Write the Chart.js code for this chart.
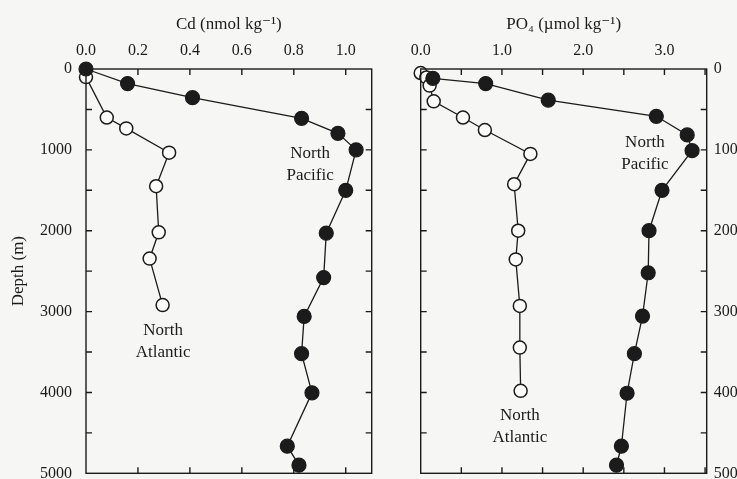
<!DOCTYPE html>
<html><head><meta charset="utf-8">
<script src="https://cdn.jsdelivr.net/npm/chart.js@4/dist/chart.umd.min.js"></script>
<style>
html,body{margin:0;padding:0;background:#f6f6f4;}
#wrap{position:relative;width:737px;height:479px;overflow:hidden;background:#f6f6f4;}
canvas{position:absolute;left:0;top:0;}
</style></head><body>
<div id="wrap"><canvas id="c1" width="737" height="495"></canvas><canvas id="c2" width="737" height="495"></canvas></div>
<script>
// ---- data ----
const depthCdPacific = [0, 180, 355, 610, 795, 1000, 1500, 2030, 2580, 3060, 3520, 4005, 4665, 4900];
const cdPacific      = [0.00, 0.16, 0.41, 0.83, 0.97, 1.04, 1.00, 0.925, 0.915, 0.84, 0.83, 0.87, 0.775, 0.82];
const depthCdAtlantic = [100, 600, 735, 1035, 1450, 2020, 2345, 2920];
const cdAtlantic      = [0.00, 0.08, 0.155, 0.32, 0.27, 0.28, 0.245, 0.295];

const depthPO4Pacific = [115, 180, 385, 585, 815, 1010, 1500, 2000, 2520, 3055, 3520, 4010, 4665, 4900];
const po4Pacific      = [0.15, 0.80, 1.57, 2.90, 3.28, 3.34, 2.97, 2.81, 2.80, 2.73, 2.63, 2.54, 2.47, 2.41];
const depthPO4Atlantic = [50, 105, 205, 400, 600, 755, 1050, 1425, 2000, 2355, 2930, 3445, 3980];
const po4Atlantic      = [0.00, 0.07, 0.11, 0.16, 0.52, 0.79, 1.35, 1.15, 1.20, 1.17, 1.22, 1.22, 1.23];

const depthLabels = [0, 1000, 2000, 3000, 4000, 5000];
const cdLabels  = [0.0, 0.2, 0.4, 0.6, 0.8, 1.0];
const po4Labels = [0.0, 1.0, 2.0, 3.0];

const cdTitle = 'Cd (nmol kg\u207B\u00B9)';
const po4Title = 'PO\u2084 (\u00B5mol kg\u207B\u00B9)';
const depthTitle = 'Depth (m)';
const pacificName = ['North', 'Pacific'];
const atlanticName = ['North', 'Atlantic'];

// ---- styling ----
const INK = '#1b1b1b';
const BG = '#f6f6f4';
const FONT = '"Liberation Serif", "DejaVu Serif", serif';
Chart.defaults.font.family = FONT;
Chart.defaults.color = INK;

function pts(xs, ys) { return xs.map((x, i) => ({x: x, y: ys[i]})); }
function isIn(v, list) { return list.some(l => Math.abs(l - v) < 1e-6); }
function noPad(s) { s.paddingTop = 0; s.paddingBottom = 0; s.paddingLeft = 0; s.paddingRight = 0; }

const framePlugin = {
  id: 'frameTicks',
  afterDraw(chart, args, opts) {
    const {ctx, chartArea: a} = chart;
    const xs = chart.scales.x, ys = chart.scales.y;
    const L = 6;
    ctx.save();
    ctx.strokeStyle = INK;
    ctx.lineWidth = 1.4;
    ctx.strokeRect(a.left, a.top, a.right - a.left, a.bottom - a.top);
    ctx.beginPath();
    xs.ticks.forEach(t => {
      const p = xs.getPixelForValue(t.value);
      if (p <= a.left + 1 || p >= a.right - 1) return;
      ctx.moveTo(p, a.top); ctx.lineTo(p, a.top + L);
      ctx.moveTo(p, a.bottom); ctx.lineTo(p, a.bottom - L);
    });
    ys.ticks.forEach(t => {
      const p = ys.getPixelForValue(t.value);
      if (p <= a.top + 1 || p >= a.bottom - 1) return;
      ctx.moveTo(a.left, p); ctx.lineTo(a.left + L, p);
      ctx.moveTo(a.right, p); ctx.lineTo(a.right - L, p);
    });
    ctx.stroke();
    // annotations
    ctx.fillStyle = INK;
    ctx.font = '17px ' + FONT;
    ctx.textAlign = 'center';
    ctx.textBaseline = 'middle';
    (opts.notes || []).forEach(n => {
      const px = xs.getPixelForValue(n.x), py = ys.getPixelForValue(n.y);
      n.lines.forEach((s, i) => ctx.fillText(s, px, py + (i - (n.lines.length - 1) / 2) * 22));
    });
    ctx.restore();
  }
};

function makeChart(id, cfg) {
  return new Chart(document.getElementById(id), {
    type: 'scatter',
    data: {datasets: [
      {data: pts(cfg.pacX, cfg.pacY), showLine: true, borderColor: INK, backgroundColor: INK,
       pointBackgroundColor: INK, pointBorderColor: INK, pointRadius: 7, pointBorderWidth: 1.2, borderWidth: 1.3, clip: false},
      {data: pts(cfg.atlX, cfg.atlY), showLine: true, borderColor: INK, backgroundColor: BG,
       pointBackgroundColor: '#fbfbfa', pointBorderColor: INK, pointRadius: 6.5, pointBorderWidth: 1.5, borderWidth: 1.3, clip: false}
    ]},
    options: {
      responsive: false, animation: false, devicePixelRatio: 1,
      layout: {padding: cfg.padding},
      plugins: {legend: {display: false}, tooltip: {enabled: false}, frameTicks: {notes: cfg.notes}},
      scales: {
        x: {type: 'linear', position: 'top', min: 0, max: cfg.xMax,
            afterFit: s => { s.height = 69; noPad(s); },
            grid: {display: false, drawTicks: false}, border: {display: false},
            title: {display: true, text: cfg.title, font: {size: 17}, color: INK, padding: {top: 14, bottom: 0}},
            ticks: {stepSize: cfg.xStep, includeBounds: false, autoSkip: false, maxRotation: 0, padding: 9, font: {size: 16}, color: INK,
                    callback: v => isIn(v, cfg.xLabels) ? v.toFixed(1) : ''}},
        y: {type: 'linear', position: cfg.yPos, reverse: true, min: 0, max: 5000,
            afterFit: s => { s.width = cfg.yWidth; noPad(s); },
            grid: {display: false, drawTicks: false}, border: {display: false},
            title: {display: cfg.yTitle, text: depthTitle, font: {size: 17}, color: INK, padding: {top: 8, bottom: 0}},
            ticks: {stepSize: 500, autoSkip: false, padding: cfg.yPad, font: {size: 16}, color: INK,
                    callback: v => isIn(v, depthLabels) ? String(v) : ''}}
      }
    },
    plugins: [framePlugin]
  });
}

makeChart('c1', {
  pacX: cdPacific, pacY: depthCdPacific, atlX: cdAtlantic, atlY: depthCdAtlantic,
  xMax: 1.1, xStep: 0.2, xLabels: cdLabels, title: cdTitle,
  yPos: 'left', yWidth: 86, yPad: 14, yTitle: true,
  padding: {left: 0, top: 0, right: 365.3, bottom: 21.7},
  notes: [{x: 0.863, y: 1176, lines: pacificName}, {x: 0.297, y: 3369, lines: atlanticName}]
});
makeChart('c2', {
  pacX: po4Pacific, pacY: depthPO4Pacific, atlX: po4Atlantic, atlY: depthPO4Atlantic,
  xMax: 3.52, xStep: 0.5, xLabels: po4Labels, title: po4Title,
  yPos: 'right', yWidth: 30.3, yPad: 7, yTitle: false,
  padding: {left: 420.7, top: 0, right: 0, bottom: 21.7},
  notes: [{x: 2.76, y: 1040, lines: pacificName}, {x: 1.22, y: 4416, lines: atlanticName}]
});
</script>
</body></html>
